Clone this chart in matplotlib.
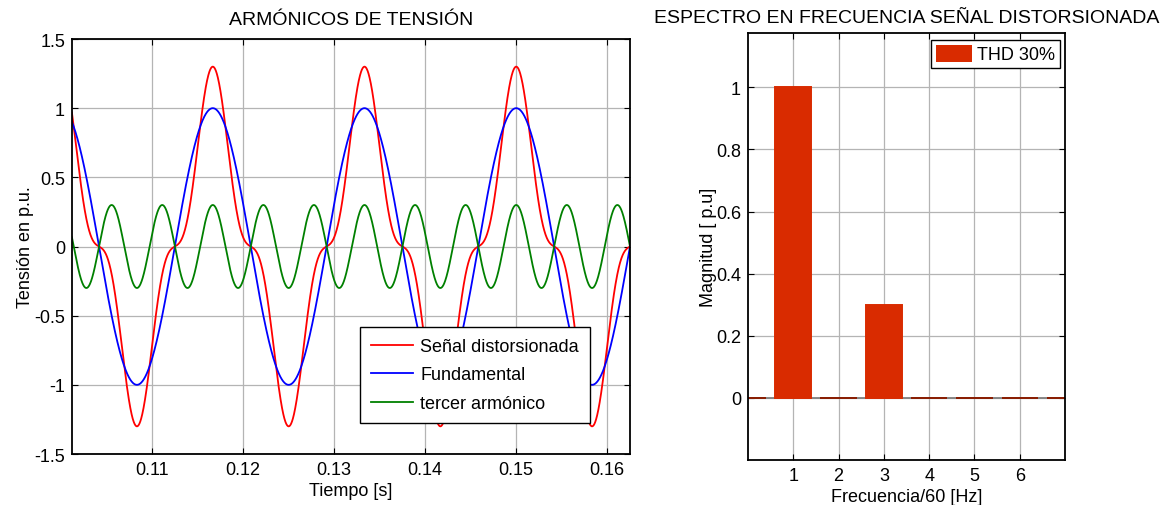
import numpy as np
import matplotlib
matplotlib.use("Agg")
import matplotlib.pyplot as plt
from matplotlib.patches import Patch

plt.rcParams["font.family"] = ["Liberation Sans", "DejaVu Sans"]
plt.rcParams["font.size"] = 13

# señal: fundamental 60 Hz + tercer armónico
F0 = 60.0
HARM_ORDER = [1, 3]
HARM_AMP = [1.0, 0.3]
T_RANGE = (0.1012, 0.1625)
Y_TICKS = [-1.5, -1, -0.5, 0, 0.5, 1, 1.5]
X_TICKS = [0.11, 0.12, 0.13, 0.14, 0.15, 0.16]
LABELS = ["Señal distorsionada", "Fundamental", "tercer armónico"]

# espectro
SPEC_ORDER = [0, 1, 2, 3, 4, 5, 6, 7]
SPEC_MAG = [0, 1.0, 0, 0.3, 0, 0, 0, 0]
SPEC_YTICKS = [0, 0.2, 0.4, 0.6, 0.8, 1]

C_RED, C_BLUE, C_GREEN = "#ff0000", "#0000ff", "#008000"
C_BAR, C_BAR_EDGE = "#d92b00", "#8a1c00"
GRID = dict(color="#b4b4b4", lw=0.9)


def style(ax):
    ax.tick_params(direction="in", top=True, right=True, length=4, width=0.8, pad=5)
    for s in ax.spines.values():
        s.set_linewidth(1.3)
    ax.grid(True, **GRID)
    ax.set_axisbelow(True)


fig = plt.figure(figsize=(11.66, 5.06), dpi=100)

# --- armónicos de tensión
ax = fig.add_axes([72 / 1166, 1 - 455 / 506, 558 / 1166, 415 / 506])
t = np.linspace(0.1, 0.17, 3000)
fund = HARM_AMP[0] * np.cos(HARM_ORDER[0] * 2 * np.pi * F0 * t)
third = HARM_AMP[1] * np.cos(HARM_ORDER[1] * 2 * np.pi * F0 * t)
ax.plot(t, fund + third, color=C_RED, lw=1.3, label=LABELS[0])
ax.plot(t, fund, color=C_BLUE, lw=1.3, label=LABELS[1])
ax.plot(t, third, color=C_GREEN, lw=1.3, label=LABELS[2])
ax.set_xlim(*T_RANGE)
ax.set_ylim(-1.5, 1.5)
ax.set_xticks(X_TICKS)
ax.set_xticklabels([f"{v:g}" for v in X_TICKS])
ax.set_yticks(Y_TICKS)
ax.set_yticklabels([f"{v:g}" for v in Y_TICKS])
style(ax)
ax.set_title("ARMÓNICOS DE TENSIÓN", fontsize=14, pad=10.5)
ax.set_xlabel("Tiempo [s]", labelpad=3)
ax.set_ylabel("Tensión en p.u.", labelpad=0)
leg = ax.legend(loc="lower left", bbox_to_anchor=(0.517, 0.075), fancybox=False,
                framealpha=1, edgecolor="black", handlelength=2.3, handletextpad=0.4,
                borderpad=0.6, labelspacing=0.64, borderaxespad=0)
leg.get_frame().set_linewidth(1.0)

# --- espectro en frecuencia
ax2 = fig.add_axes([748 / 1166, 1 - 461 / 506, 317 / 1166, 427 / 506])
edges = [C_BAR_EDGE if m == 0 else C_BAR for m in SPEC_MAG]
ax2.axhline(0, color="#808080", lw=1.3, zorder=1.5)
ax2.bar(SPEC_ORDER, SPEC_MAG, width=0.8, color=C_BAR, edgecolor=edges, lw=1.4, zorder=2)
ax2.set_xlim(0, 7)
ax2.set_ylim(-0.2, 1.175)
ax2.set_xticks([1, 2, 3, 4, 5, 6])
ax2.set_yticks(SPEC_YTICKS)
ax2.set_yticklabels([f"{v:g}" for v in SPEC_YTICKS])
style(ax2)
ax2.set_title("ESPECTRO EN FRECUENCIA SEÑAL DISTORSIONADA", fontsize=14, pad=8)
ax2.set_xlabel("Frecuencia/60 [Hz]", labelpad=3)
ax2.set_ylabel("Magnitud [ p.u]", labelpad=-1)
leg2 = ax2.legend(handles=[Patch(facecolor=C_BAR, edgecolor="none", label="THD 30%")],
                  loc="upper right", bbox_to_anchor=(0.984, 0.9836), fancybox=False,
                  framealpha=1, edgecolor="black", handlelength=2.0, handleheight=1.1,
                  handletextpad=0.3, borderpad=0.25, borderaxespad=0)
leg2.get_frame().set_linewidth(1.0)

fig.savefig("out.png", dpi=100)
